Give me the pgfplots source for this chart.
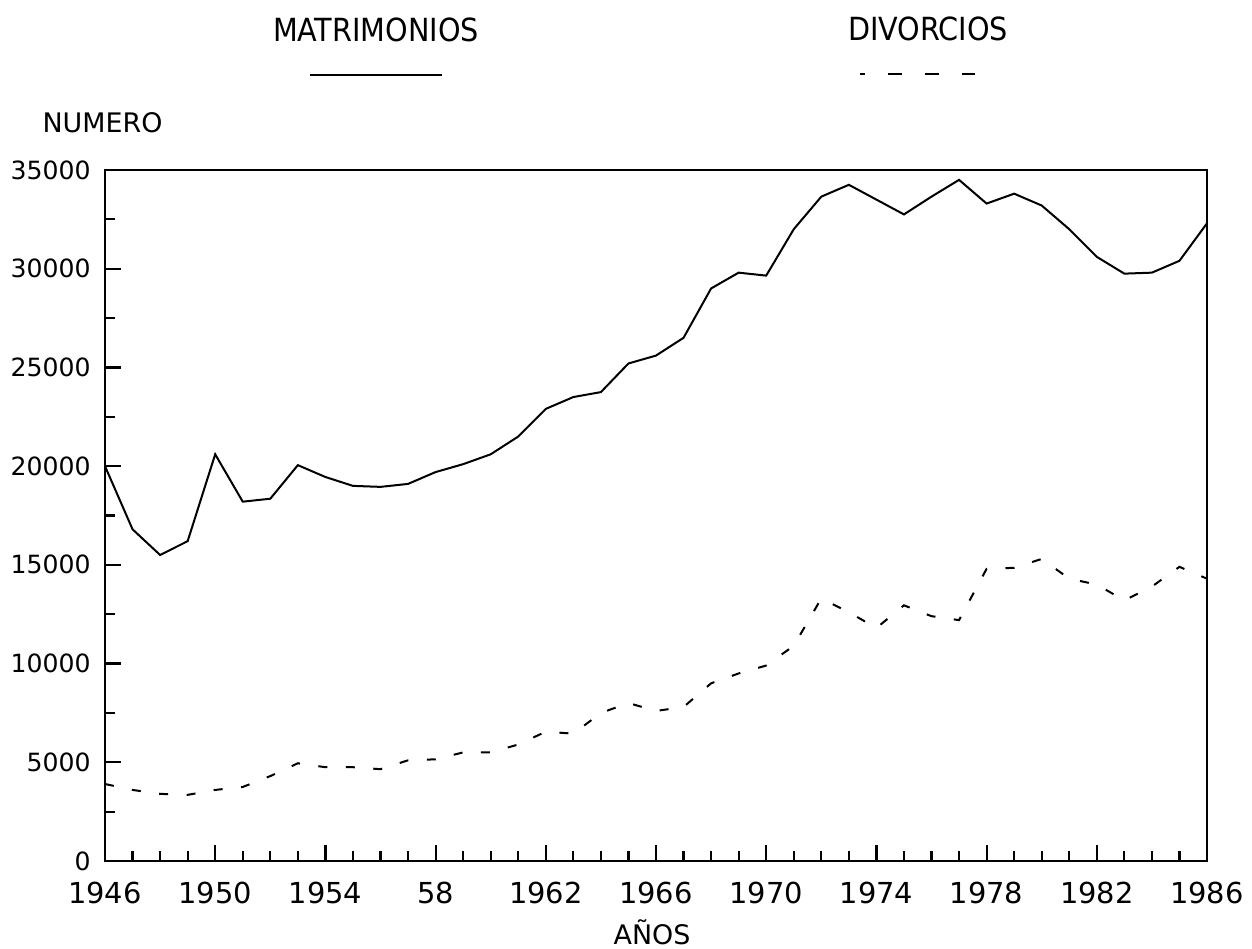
\documentclass[border=0pt]{standalone}
\usepackage{fontspec}
\setmainfont{DejaVu Sans}
\newfontfamily\condfont{DejaVu Sans Condensed}
\usepackage{pgfplots}
\pgfplotsset{compat=1.18}
\usepackage{pgfplotstable}

\pgfplotstableread{
year value
1946 20000
1947 16800
1948 15500
1949 16200
1950 20600
1951 18200
1952 18350
1953 20050
1954 19450
1955 19000
1956 18950
1957 19100
1958 19700
1959 20100
1960 20600
1961 21500
1962 22900
1963 23500
1964 23750
1965 25200
1966 25600
1967 26500
1968 29000
1969 29800
1970 29650
1971 32000
1972 33650
1973 34250
1974 33500
1975 32750
1976 33650
1977 34500
1978 33300
1979 33800
1980 33200
1981 32000
1982 30600
1983 29750
1984 29800
1985 30400
1986 32300
}\matrimonios

\pgfplotstableread{
year value
1946 3900
1947 3600
1948 3400
1949 3350
1950 3600
1951 3750
1952 4300
1953 4950
1954 4750
1955 4750
1956 4650
1957 5100
1958 5150
1959 5500
1960 5500
1961 5900
1962 6550
1963 6450
1964 7500
1965 8000
1966 7600
1967 7800
1968 9000
1969 9500
1970 9900
1971 10900
1972 13300
1973 12600
1974 11800
1975 12950
1976 12400
1977 12200
1978 14800
1979 14850
1980 15300
1981 14300
1982 14000
1983 13200
1984 13900
1985 14900
1986 14300
}\divorcios

\begin{document}
\begin{tikzpicture}
\begin{axis}[
  at={(52.5bp,44bp)}, anchor=south west,
  scale only axis, width=551bp, height=345.5bp,
  xmin=1946, xmax=1986, ymin=0, ymax=35000,
  axis line style={black, line width=1.4bp},
  tick pos=left, tick align=inside,
  every tick/.style={black, line width=1.1bp},
  major tick length=8bp, minor tick length=5bp,
  xtick={1946,1950,1954,1958,1962,1966,1970,1974,1978,1982,1986},
  xticklabels={1946,1950,1954,58,1962,1966,1970,1974,1978,1982,1986},
  minor x tick num=3,
  scaled y ticks=false, scaled x ticks=false,
  ytick={0,5000,10000,15000,20000,25000,30000,35000},
  yticklabels={0,5000,10000,15000,20000,25000,30000,35000},
  minor y tick num=1,
  /pgf/number format/assume math mode=true,
  xticklabel style={font=\fontsize{14.5}{16}\selectfont, anchor=north, inner sep=0pt, yshift=-10.5bp},
  yticklabel style={font=\fontsize{12.6}{14}\selectfont, anchor=east, inner sep=0pt, xshift=-7bp},
  clip=false,
]
\addplot[black, line width=1bp] table[x=year, y=value] {\matrimonios};
\addplot[black, line width=1bp, dash pattern=on 4.5bp off 9.25bp] table[x=year, y=value] {\divorcios};
\end{axis}

% legend and labels
\node[anchor=base, inner sep=0pt, font=\condfont\fontsize{16}{18}\selectfont] at (188bp,453.6bp) {MATRIMONIOS};
\draw[black, line width=1.2bp] (155bp,437bp) -- (221bp,437bp);
\node[anchor=base, inner sep=0pt, font=\condfont\fontsize{16}{18}\selectfont] at (464bp,454.1bp) {DIVORCIOS};
\draw[black, line width=1.2bp, dash pattern=on 7bp off 11.5bp, dash phase=4.5bp] (430bp,437.5bp) -- (487.5bp,437.5bp);
\node[anchor=base, inner sep=0pt, font=\fontsize{13.5}{15}\selectfont] at (51.25bp,408bp) {NUMERO};
\node[anchor=base, inner sep=0pt, font=\fontsize{13.5}{15}\selectfont] at (326bp,2.5bp) {AÑOS};

\pgfresetboundingbox
\path (0,0) rectangle (626bp,474.5bp);
\end{tikzpicture}
\end{document}
